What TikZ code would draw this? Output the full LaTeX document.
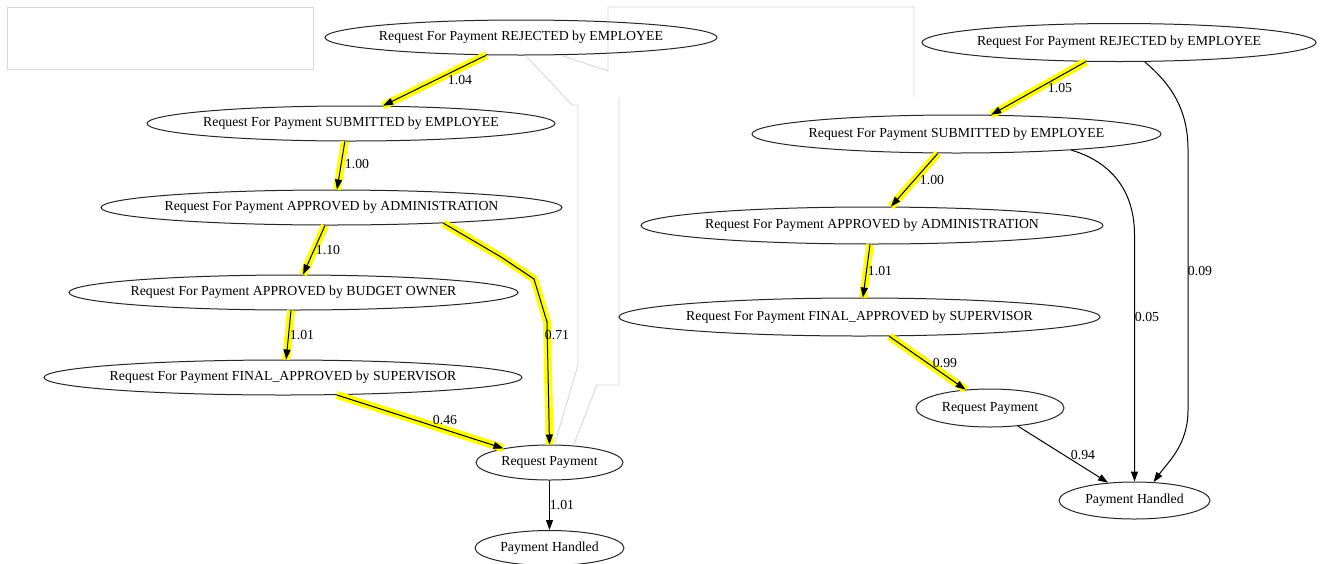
\documentclass[tikz,border=0pt]{standalone}
\usepackage{fontspec}
\setmainfont{Liberation Serif}
\usetikzlibrary{shapes.geometric,arrows.meta}
\definecolor{hlyellow}{RGB}{255,255,0}
\definecolor{framegray}{RGB}{214,214,214}
% zero-width box so that the ellipse size is set by minimum width/height only
\newcommand\centred[1]{\makebox[0pt][c]{#1}}

\begin{document}
\begin{tikzpicture}[x=1pt,y=-1pt,
  state/.style={ellipse, draw=black!85, line width=1pt, inner sep=0pt,
                font=\fontsize{13.8}{16}\selectfont},
  elab/.style={inner sep=0pt, font=\fontsize{13.8}{16}\selectfont},
  edge/.style={draw=black, line width=1pt, line join=round,
               -{Triangle[length=10pt,width=7pt]}},
  hl/.style={preaction={draw=hlyellow, line width=8pt, arrows=-,
             line cap=butt, line join=round}},
  frame/.style={draw=framegray, line width=0.8pt}]

\fill[white] (0,0) rectangle (1321,563);
\useasboundingbox (0,0) rectangle (1321,563);

% pale window outlines
\draw[frame] (7,7) rectangle (313,69);
\draw[frame] (563,56) -- (608,71) -- (608,7) -- (914,7) -- (914,97);
\draw[frame] (527,57) -- (572,105) -- (578,105) -- (578,365) -- (555,443);
\draw[frame] (619,97) -- (619,385) -- (597,385) -- (574,444);

% ---------- left graph ----------
\node[state, minimum width=392, minimum height=35] (L1) at (521,37.5)
  {\centred{Request For Payment REJECTED by EMPLOYEE}};
\node[state, minimum width=408, minimum height=35] (L2) at (351,123.5)
  {\centred{Request For Payment SUBMITTED by EMPLOYEE}};
\node[state, minimum width=461, minimum height=35] (L3) at (331.5,207.5)
  {\centred{Request For Payment APPROVED by ADMINISTRATION}};
\node[state, minimum width=449, minimum height=35] (L4) at (293.5,292.5)
  {\centred{Request For Payment APPROVED by BUDGET OWNER}};
\node[state, minimum width=478, minimum height=35] (L5) at (283,377.5)
  {\centred{Request For Payment FINAL\_APPROVED by SUPERVISOR}};
\node[state, minimum width=147, minimum height=35] (L6) at (549.5,462.5)
  {\centred{Request Payment}};
\node[state, minimum width=149, minimum height=35] (L7) at (549.5,548)
  {\centred{Payment Handled}};

\draw[edge,hl] (L1.207) -- (L2.29);
\draw[edge,hl] (L2.251) -- (L3.73);
\draw[edge,hl] (L3.250) -- (L4.62);
\draw[edge,hl] (L4.262) -- (L5.80);
\draw[edge,hl] (L5.342) -- (L6.163);
\draw[edge,hl] (L3.352) -- (501,257) -- (534,279) -- (547,322) -- (L6.north);
\draw[edge] (L6.south) -- (L7.north);

\node[elab] (a1) at (460,80) {1.04};
\node[elab] (a2) at (357,164) {1.00};
\node[elab] (a3) at (328,250) {1.10};
\node[elab] (a4) at (302,335) {1.01};
\node[elab] (a5) at (557,335) {0.71};
\node[elab] (a6) at (445,420) {0.46};
\node[elab] (a7) at (562,505) {1.01};

% ---------- right graph ----------
\node[state, minimum width=394, minimum height=38] (R1) at (1119,42.5)
  {\centred{Request For Payment REJECTED by EMPLOYEE}};
\node[state, minimum width=409, minimum height=38] (R2) at (956.5,134)
  {\centred{Request For Payment SUBMITTED by EMPLOYEE}};
\node[state, minimum width=462, minimum height=37] (R3) at (872,225.5)
  {\centred{Request For Payment APPROVED by ADMINISTRATION}};
\node[state, minimum width=481, minimum height=38] (R4) at (859.5,317)
  {\centred{Request For Payment FINAL\_APPROVED by SUPERVISOR}};
\node[state, minimum width=148, minimum height=38] (R5) at (990,408)
  {\centred{Request Payment}};
\node[state, minimum width=151, minimum height=37] (R6) at (1134.5,500.5)
  {\centred{Payment Handled}};

\draw[edge,hl] (R1.210) -- (R2.29);
\draw[edge,hl] (R2.226) -- (R3.45);
\draw[edge,hl] (R3.264) -- (R4.80);
\draw[edge,hl] (R4.327) -- (R5.143);
\draw[edge] (R5.327) -- (R6.146);
\draw[edge] (R2.352) .. controls (1105,160) and (1134.5,185) .. (1134.5,235)
  -- (R6.north);
\draw[edge] (R1.323) .. controls (1172,85) and (1188,110) .. (1188,150)
  -- (1188,410) .. controls (1188,445) and (1168,462) .. (R6.44);

\node[elab] (b1) at (1060,88) {1.05};
\node[elab] (b2) at (932,180) {1.00};
\node[elab] (b3) at (880,271) {1.01};
\node[elab] (b4) at (945,363) {0.99};
\node[elab] (b5) at (1083,455) {0.94};
\node[elab] (b6) at (1147,317) {0.05};
\node[elab] (b7) at (1200,271) {0.09};
\end{tikzpicture}
\end{document}
